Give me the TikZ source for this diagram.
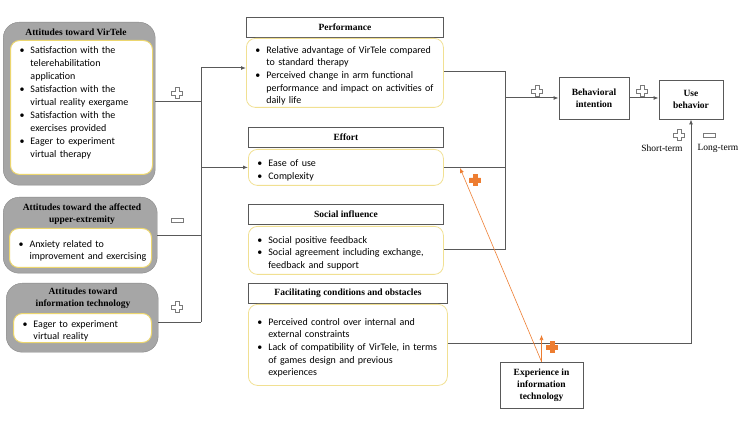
\documentclass[tikz,border=0pt]{standalone}
\usepackage{fontspec}
\setmainfont{Liberation Serif}
\newfontfamily\listfont{Carlito}
\usepackage{enumitem}
\usetikzlibrary{arrows.meta,positioning}

\definecolor{boxgrey}{RGB}{166,166,166}
\definecolor{boxgreyline}{RGB}{135,135,135}
\definecolor{creamline}{RGB}{236,214,110}
\definecolor{conngrey}{RGB}{89,89,89}
\definecolor{plusorange}{RGB}{237,125,49}

\newcommand\titletext{\bfseries\fontsize{9.5}{12}\selectfont}
\newcommand\listtext{\listfont\fontsize{10}{12.7}\selectfont}
\newenvironment{bullets}{\begin{itemize}[nosep,leftmargin=16pt,labelsep=6pt,label=\textbullet]}{\end{itemize}}

\tikzset{
  grpbox/.style={draw=boxgreyline,fill=boxgrey,rounded corners=16pt,anchor=north west,inner sep=0pt},
  listbox/.style={draw=creamline,line width=1pt,fill=white,rounded corners=9pt,anchor=north west,
    inner xsep=4pt,inner ysep=0pt,align=left,font=\listtext},
  bodybox/.style={listbox,draw=creamline!75,line width=0.8pt},
  headbox/.style={draw=conngrey,line width=0.9pt,fill=white,anchor=north west,inner sep=0pt,font=\titletext},
  plainbox/.style={draw=conngrey,line width=0.8pt,fill=white,align=center,inner sep=0pt,font=\titletext},
  conn/.style={draw=conngrey,line width=1pt},
  orconn/.style={draw=plusorange,line width=0.6pt},
  signgrey/.style={draw=conngrey!80,line width=0.7pt,fill=white},
  signorange/.style={draw=plusorange,fill=plusorange,line width=0.5pt}
}

\begin{document}
\begin{tikzpicture}[x=1pt,y=-1pt]
\newcommand\PlusMark[2]{\draw[#2,shift={(#1)}] (-2,-5.5) -- (2,-5.5) -- (2,-2) -- (5.5,-2) -- (5.5,2)
  -- (2,2) -- (2,5.5) -- (-2,5.5) -- (-2,2) -- (-5.5,2) -- (-5.5,-2) -- (-2,-2) -- cycle;}
\newcommand\MinusMark[2]{\draw[#2,shift={(#1)}] (-6,-2) rectangle (6,2);}
\useasboundingbox (0,0) rectangle (740,425);

% attitudes (left column)
\node[grpbox,minimum width=152pt,minimum height=163pt] (vt) at (3,22) {};
\node[font=\titletext] (vtTitle) at (76,32) {Attitudes toward VirTele};
\node[listbox,minimum width=142pt,minimum height=132pt,text width=134pt,
  font=\listfont\fontsize{10}{13}\selectfont] (vtList) at (10,40) {%
  \begin{bullets}
  \item Satisfaction with the\\ telerehabilitation\\ application
  \item Satisfaction with the\\ virtual reality exergame
  \item Satisfaction with the\\ exercises provided
  \item Eager to experiment\\ virtual therapy
  \end{bullets}\par\strut};

\node[grpbox,minimum width=154pt,minimum height=76pt] (ate) at (3,197) {};
\node[font=\titletext,align=center] (ateTitle) at (82,214) {Attitudes toward the affected\\ upper-extremity};
\node[listbox,minimum width=142pt,minimum height=39pt,text width=134pt] (ateList) at (9,228) {%
  \begin{bullets}
  \item Anxiety related to\\ improvement and exercising
  \end{bullets}};

\node[grpbox,minimum width=152pt,minimum height=69pt] (ait) at (6,283) {};
\node[font=\titletext,align=center] (aitTitle) at (83,298) {Attitudes toward\\ information technology};
\node[listbox,minimum width=138pt,minimum height=29pt,text width=130pt] (aitList) at (13,313) {%
  \begin{bullets}
  \item Eager to experiment\\ virtual reality
  \end{bullets}};

% determinants (middle column)
\node[headbox,minimum width=197pt,minimum height=20pt] (perfHead) at (246,17) {Performance};
\node[bodybox,minimum width=197pt,minimum height=69pt,text width=189pt] (perfBody) at (246,38) {%
  \begin{bullets}
  \item Relative advantage of VirTele compared\\ to standard therapy
  \item Perceived change in arm functional\\ performance and impact on activities of\\ daily life
  \end{bullets}};

\node[headbox,minimum width=195pt,minimum height=20pt] (effHead) at (248,127) {Effort};
\node[bodybox,minimum width=195pt,minimum height=36pt,text width=187pt] (effBody) at (248,149) {%
  \begin{bullets}
  \item Ease of use
  \item Complexity
  \end{bullets}};

\node[headbox,minimum width=195pt,minimum height=20pt] (socHead) at (248,204) {Social influence};
\node[bodybox,minimum width=195pt,minimum height=48pt,text width=187pt] (socBody) at (248,226) {%
  \begin{bullets}
  \item Social positive feedback
  \item Social agreement including exchange,\\ feedback and support
  \end{bullets}};

\node[headbox,minimum width=199pt,minimum height=20pt] (facHead) at (248,283) {Facilitating conditions and obstacles};
\node[bodybox,minimum width=199pt,minimum height=81pt,text width=191pt] (facBody) at (248,304) {%
  \begin{bullets}
  \item Perceived control over internal and\\ external constraints
  \item Lack of compatibility of VirTele, in terms\\ of games design and previous\\ experiences
  \end{bullets}};

% outcomes (right)
\node[plainbox,minimum width=70pt,minimum height=42pt] (bi) at (594,98) {Behavioral\\ intention};
\node[plainbox,minimum width=64pt,minimum height=39pt] (ub) at (691,99.5) {Use\\ behavior};
\node[plainbox,minimum width=83pt,minimum height=46pt] (exp) at (541.5,385) {Experience in\\ information\\ technology};
\node (shortLbl) at (662,148) {\fontsize{9.5}{11}\selectfont Short-term};
\node (longLbl) at (718,148) {\fontsize{9.5}{11}\selectfont Long-term};

% connectors
\coordinate (lbusTop) at (201,68);
\coordinate (lbusMid) at (201,102);
\coordinate (lbusBot) at (201,322);
\draw[conn] (lbusTop) -- (lbusBot);
\draw[conn] (vt.east |- lbusMid) -- (lbusMid);
\draw[conn] (ate.east) -- (ate.east -| lbusTop);
\draw[conn] (ait.east |- lbusBot) -- (lbusBot);
\draw[conn,-{Latex[length=5pt,width=4pt]}] (lbusTop) -- (perfBody.west |- lbusTop);
\draw[conn,-{Latex[length=5pt,width=4pt]}] (lbusTop |- effBody.west) -- (effBody.west);

\coordinate (rbusTop) at (505,72);
\coordinate (rbusBot) at (505,250);
\draw[conn] (perfBody.east |- rbusTop) -- (rbusTop) -- (rbusBot) -- (socBody.east |- rbusBot);
\draw[conn] (effBody.east) -- (effBody.east -| rbusTop);
\draw[conn,-{Latex[length=5pt,width=4pt]}] (rbusTop |- bi.west) -- (bi.west);
\draw[conn,-{Latex[length=5pt,width=4pt]}] (bi.east) -- (bi.east -| ub.west);

\coordinate (fcorner) at (691,343);
\draw[conn,-{Latex[length=5pt,width=4pt]}] (facBody.east |- fcorner) -- (fcorner) -- (fcorner |- ub.south);

\coordinate (expTip) at (541.5,335);
\coordinate (effTip) at (460,168);
\draw[orconn,-{Latex[length=5pt,width=4pt]}] (exp.north) -- (expTip);
\draw[orconn,-{Latex[length=5pt,width=4pt]}] (exp.north) -- (effTip);

% signs
\PlusMark{177,93}{signgrey}
\MinusMark{177,220}{signgrey}
\PlusMark{177,307}{signgrey}
\PlusMark{537,91}{signgrey}
\PlusMark{642,91}{signgrey}
\PlusMark{679,135}{signgrey}
\MinusMark{709,135}{signgrey}
\PlusMark{475,180}{signorange}
\PlusMark{552,347}{signorange}
\end{tikzpicture}
\end{document}
